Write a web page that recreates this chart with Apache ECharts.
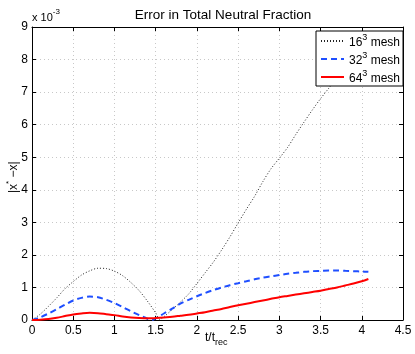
<html>
<head>
<meta charset="utf-8">
<title>Error in Total Neutral Fraction</title>
<script src="https://cdn.jsdelivr.net/npm/echarts/dist/echarts.min.js"></script>
<style>
  body { margin: 0; background: #fff; }
  #chart { width: 415px; height: 354px; }
</style>
</head>
<body>
<div id="chart"></div>
<script type="text/javascript">
// t/t_rec sample points
var t16 = [0, 0.1, 0.2, 0.3, 0.4, 0.5, 0.6, 0.7, 0.8, 0.9, 1.0, 1.1, 1.2, 1.3, 1.4, 1.5, 1.55, 1.6, 1.7, 1.8, 1.9, 2.0,
           2.1, 2.2, 2.3, 2.4, 2.5, 2.6, 2.7, 2.8, 2.9, 3.0, 3.1, 3.2, 3.3, 3.4, 3.5, 3.6, 3.7, 3.8, 3.9, 4.0, 4.08];
var err16 = [0, 0.18, 0.42, 0.68, 0.96, 1.18, 1.38, 1.51, 1.59, 1.58, 1.5, 1.36, 1.15, 0.9, 0.58, 0.22, 0.02, 0.1, 0.32, 0.55, 0.8, 1.12,
             1.45, 1.78, 2.15, 2.55, 2.98, 3.4, 3.8, 4.25, 4.65, 4.97, 5.3, 5.7, 6.08, 6.45, 6.8, 7.12, 7.45, 7.8, 8.1, 8.4, 8.65];

var tMesh = [0, 0.1, 0.2, 0.3, 0.4, 0.5, 0.6, 0.7, 0.8, 0.9, 1.0, 1.1, 1.2, 1.3, 1.4, 1.45, 1.5, 1.6, 1.7, 1.8, 1.9, 2.0,
             2.1, 2.2, 2.3, 2.4, 2.5, 2.6, 2.7, 2.8, 2.9, 3.0, 3.1, 3.2, 3.3, 3.4, 3.5, 3.6, 3.7, 3.8, 3.9, 4.0, 4.08];
var err32 = [0, 0.08, 0.2, 0.33, 0.47, 0.6, 0.68, 0.72, 0.7, 0.62, 0.52, 0.4, 0.27, 0.15, 0.04, 0.0, 0.05, 0.2, 0.35, 0.5, 0.62, 0.73,
             0.83, 0.92, 1.0, 1.07, 1.13, 1.19, 1.25, 1.3, 1.34, 1.38, 1.42, 1.45, 1.48, 1.5, 1.51, 1.52, 1.52, 1.51, 1.5, 1.49, 1.48];
var err64 = [0, 0.01, 0.03, 0.07, 0.12, 0.17, 0.2, 0.22, 0.21, 0.18, 0.15, 0.11, 0.08, 0.06, 0.05, 0.05, 0.06, 0.08, 0.1, 0.13, 0.16, 0.2,
             0.24, 0.29, 0.34, 0.4, 0.45, 0.5, 0.55, 0.6, 0.65, 0.7, 0.74, 0.78, 0.82, 0.86, 0.9, 0.95, 1.0, 1.06, 1.12, 1.19, 1.26];

var seriesNames = ['16', '32', '64'];

function pairs(xs, ys) {
    var out = [];
    for (var i = 0; i < xs.length; i++) {
        out.push([xs[i], ys[i]]);
    }
    return out;
}

var font = 'Liberation Sans, Arial, sans-serif';
var gridLine = { show: true, lineStyle: { color: '#c8c8c8', type: [1, 3], width: 1 } };

var myChart = echarts.init(document.getElementById('chart'));

var option = {
    animation: false,
    backgroundColor: '#fff',
    textStyle: { fontFamily: font },
    title: {
        text: 'Error in Total Neutral Fraction',
        left: 218,
        textAlign: 'center',
        top: 3,
        textStyle: { fontSize: 13.5, fontWeight: 'normal', color: '#000', fontFamily: font }
    },
    grid: { left: 32, right: 12, top: 27, bottom: 34 },
    legend: {
        orient: 'vertical',
        left: 316,
        top: 31,
        backgroundColor: '#fff',
        borderColor: '#000',
        borderWidth: 1,
        borderRadius: 0,
        padding: [2, 3, 1, 4],
        itemGap: 2,
        itemWidth: 23,
        itemHeight: 14,
        itemStyle: { opacity: 0 },   // hide the symbol, keep the line sample
        formatter: function (name) {
            return '{n|' + name + '}{s|3}{n| mesh}';
        },
        textStyle: {
            color: '#000',
            fontFamily: font,
            rich: {
                n: { fontSize: 12, fontFamily: font, color: '#000', padding: [4, 0, 0, 0] },
                s: { fontSize: 9, fontFamily: font, color: '#000', verticalAlign: 'top', padding: [0, 0, 6, 0] }
            }
        },
        data: seriesNames
    },
    xAxis: [
        {
            type: 'value',
            min: 0, max: 4.5, interval: 0.5,
            axisLine: { lineStyle: { color: '#000' } },
            axisTick: { inside: true, length: 4, lineStyle: { color: '#000' } },
            axisLabel: { color: '#000', fontSize: 12, margin: 5, fontFamily: font },
            splitLine: gridLine
        },
        {
            type: 'value', position: 'top',
            min: 0, max: 4.5, interval: 0.5,
            axisLine: { show: true, onZero: false, lineStyle: { color: '#000' } },
            axisTick: { inside: true, length: 4, lineStyle: { color: '#000' } },
            axisLabel: { show: false },
            splitLine: { show: false }
        }
    ],
    yAxis: [
        {
            type: 'value',
            min: 0, max: 9, interval: 1,
            axisLine: { show: true, lineStyle: { color: '#000' } },
            axisTick: { show: true, inside: true, length: 4, lineStyle: { color: '#000' } },
            axisLabel: { color: '#000', fontSize: 12, margin: 4, fontFamily: font },
            splitLine: gridLine
        },
        {
            type: 'value', position: 'right',
            min: 0, max: 9, interval: 1,
            axisLine: { show: true, onZero: false, lineStyle: { color: '#000' } },
            axisTick: { show: true, inside: true, length: 4, lineStyle: { color: '#000' } },
            axisLabel: { show: false },
            splitLine: { show: false }
        }
    ],
    graphic: [
        {
            type: 'text', left: 32, top: 8,
            style: {
                text: '{a|x 10}{b|-3}',
                rich: {
                    a: { fontSize: 11, fontFamily: font, fill: '#000', padding: [4, 0, 0, 0] },
                    b: { fontSize: 8, fontFamily: font, fill: '#000', verticalAlign: 'top' }
                }
            }
        },
        {
            type: 'text', x: 5, y: 193, rotation: Math.PI / 2,
            style: {
                text: '{a||x}{b|*}{a| \u2212x|}',
                rich: {
                    a: { fontSize: 12, fontFamily: font, fill: '#000', padding: [3, 0, 0, 0] },
                    b: { fontSize: 8, fontFamily: font, fill: '#000', verticalAlign: 'top' }
                }
            }
        },
        {
            type: 'text', left: 205, top: 332,
            style: {
                text: '{a|t/t}{b|rec}',
                rich: {
                    a: { fontSize: 12, fontFamily: font, fill: '#000' },
                    b: { fontSize: 9, fontFamily: font, fill: '#000', padding: [9, 0, 0, 0] }
                }
            }
        }
    ],
    series: [
        {
            name: '16', type: 'line', symbol: 'none', smooth: 0.3,
            lineStyle: { color: '#222', width: 1, type: [1, 2] },
            itemStyle: { color: '#222' },
            data: pairs(t16, err16), z: 3
        },
        {
            name: '32', type: 'line', symbol: 'none', smooth: 0.3,
            lineStyle: { color: '#1f4fff', width: 2, type: [6, 4] },
            itemStyle: { color: '#1f4fff' },
            data: pairs(tMesh, err32), z: 4
        },
        {
            name: '64', type: 'line', symbol: 'none', smooth: 0.3,
            lineStyle: { color: '#ff0000', width: 2 },
            itemStyle: { color: '#ff0000' },
            data: pairs(tMesh, err64), z: 5
        }
    ]
};

if (option && typeof option === "object") {
    myChart.setOption(option, true);
}
</script>
</body>
</html>
